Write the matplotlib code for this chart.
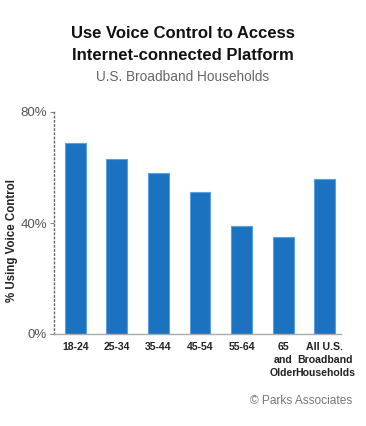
import matplotlib as mpl
import matplotlib.pyplot as plt

CATEGORIES = ["18-24", "25-34", "35-44", "45-54", "55-64", "65\nand\nOlder",
              "All U.S.\nBroadband\nHouseholds"]
VALUES = [69, 63, 58, 51, 39, 35, 56]
Y_TICKS = [0, 40, 80]
Y_TICK_LABELS = ["0%", "40%", "80%"]

mpl.rcParams.update({
    "font.family": ["Liberation Sans", "DejaVu Sans"],
    "figure.facecolor": "white", "axes.facecolor": "white",
})

W, H = 366, 426
fig = plt.figure(figsize=(W / 100, H / 100), dpi=100)
ax = fig.add_axes([54 / W, 1 - 334 / H, (341 - 54) / W, (334 - 112) / H])

x = list(range(len(CATEGORIES)))
ax.bar(x, VALUES, width=0.5, color="#1a72c0", edgecolor="#5b9fdc", linewidth=0.8)
ax.set_xlim(-0.51, 6.39)
ax.set_ylim(0, 80)

for side in ("top", "right"):
    ax.spines[side].set_visible(False)
ax.spines["left"].set_linestyle((0, (1, 2)))
ax.spines["left"].set_color("#666666")
ax.spines["left"].set_linewidth(1.0)
ax.spines["bottom"].set_color("#aaaaaa")
ax.spines["bottom"].set_linewidth(1.0)

ax.set_yticks(Y_TICKS)
ax.set_yticklabels(Y_TICK_LABELS, fontsize=9.5, color="#555555")
ax.tick_params(axis="y", length=3, color="#888888", pad=2)
ax.set_xticks(x)
ax.set_xticklabels(CATEGORIES, fontsize=7.6, fontweight="bold", color="#222222",
                   linespacing=1.35)
ax.tick_params(axis="x", length=0, pad=6)
ax.set_ylabel("% Using Voice Control", fontsize=8.3, fontweight="bold", color="#222222")
ax.yaxis.set_label_coords(-(54 - 18) / (341 - 54), (334 - 241) / (334 - 112))

fig.text(0.5, 1 - 33 / H, "Use Voice Control to Access", ha="center", va="center",
         fontsize=12, fontweight="bold", color="#111111")
fig.text(0.5, 1 - 56 / H, "Internet-connected Platform", ha="center", va="center",
         fontsize=12, fontweight="bold", color="#111111")
fig.text(0.5, 1 - 77 / H, "U.S. Broadband Households", ha="center", va="center",
         fontsize=9.8, color="#666666")
fig.text(352 / W, 1 - 401 / H, "© Parks Associates", ha="right", va="center",
         fontsize=8.6, color="#777777")

fig.savefig("out.png", dpi=100, facecolor="white")
